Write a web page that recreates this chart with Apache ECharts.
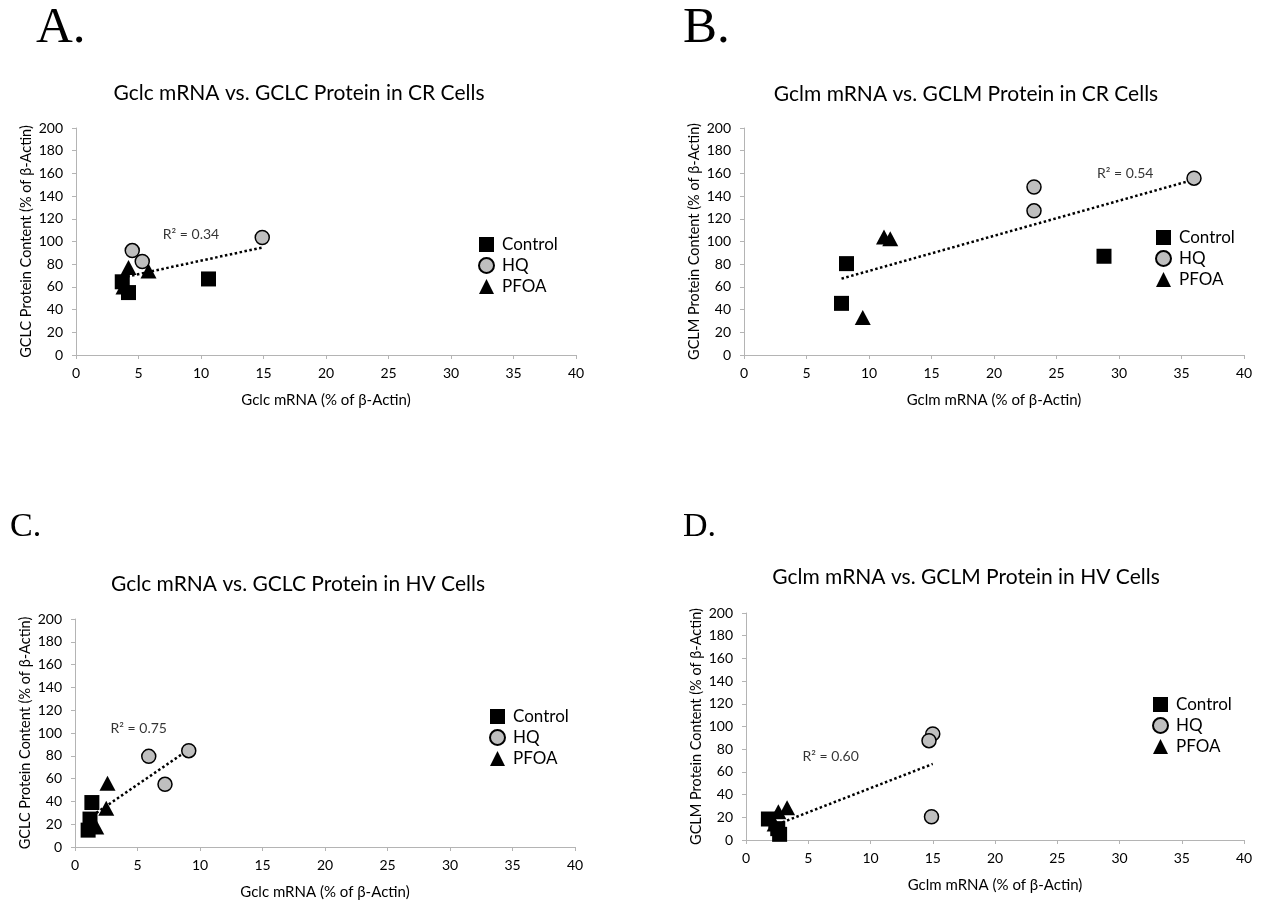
<!DOCTYPE html>
<html><head><meta charset="utf-8">
<script src="https://cdn.jsdelivr.net/npm/echarts@6/dist/echarts.min.js"></script>
<style>html,body{margin:0;padding:0;background:#fff}#c{width:1262px;height:903px}</style>
</head><body><div id="c"></div>
<script>
// ---------- text ----------
const panelLetters = ['A.', 'B.', 'C.', 'D.'];
const panelTitles = [
  'Gclc mRNA vs. GCLC Protein in CR Cells',
  'Gclm mRNA vs. GCLM Protein in CR Cells',
  'Gclc mRNA vs. GCLC Protein in HV Cells',
  'Gclm mRNA vs. GCLM Protein in HV Cells'
];
const xAxisNames = ['Gclc mRNA (% of β-Actin)', 'Gclm mRNA (% of β-Actin)', 'Gclc mRNA (% of β-Actin)', 'Gclm mRNA (% of β-Actin)'];
const yAxisNames = ['GCLC Protein Content (% of β-Actin)', 'GCLM Protein Content (% of β-Actin)', 'GCLC Protein Content (% of β-Actin)', 'GCLM Protein Content (% of β-Actin)'];
const groupNames = ['Control', 'HQ', 'PFOA'];
const xTickRange = [0, 40, 5];    // min, max, interval
const yTickRange = [0, 200, 20];

// ---------- data (x = mRNA %, y = protein %) ----------
const controlA = [[3.7, 64.5], [4.2, 55], [10.6, 67]];
const hqA      = [[4.5, 92], [5.3, 82.4], [14.9, 103.5]];
const pfoaA    = [[4.2, 77], [5.8, 74], [3.8, 60]];
const trendA   = [[3.7, 68.2], [14.9, 94.7]];
const r2TextA  = 'R² = 0.34';
const r2PosA   = [9.2, 106];

const controlB = [[7.8, 45.5], [8.2, 80.5], [28.8, 87]];
const hqB      = [[23.2, 148], [23.2, 127], [36.0, 155.8]];
const pfoaB    = [[11.2, 104], [11.7, 102.5], [9.5, 33]];
const trendB   = [[7.8, 67.3], [36.0, 154.5]];
const r2TextB  = 'R² = 0.54';
const r2PosB   = [30.5, 160];

const controlC = [[1.35, 39], [1.2, 24.5], [1.05, 14.8]];
const hqC      = [[5.9, 79.5], [9.1, 84.5], [7.2, 55]];
const pfoaC    = [[2.6, 56], [2.5, 34], [1.7, 17.5]];
const trendC   = [[1.05, 25], [9.1, 85.5]];
const r2TextC  = 'R² = 0.75';
const r2PosC   = [5.1, 104];

const controlD = [[1.8, 18.5], [2.55, 10], [2.7, 5]];
const hqD      = [[15.0, 93.5], [14.7, 87.5], [14.9, 20.5]];
const pfoaD    = [[2.6, 25], [3.3, 28.5], [2.3, 14]];
const trendD   = [[1.8, 10.8], [15.0, 67]];
const r2TextD  = 'R² = 0.60';
const r2PosD   = [6.8, 73.5];

const panels = [
  {control: controlA, hq: hqA, pfoa: pfoaA, trend: trendA, r2: r2TextA, r2Pos: r2PosA},
  {control: controlB, hq: hqB, pfoa: pfoaB, trend: trendB, r2: r2TextB, r2Pos: r2PosB},
  {control: controlC, hq: hqC, pfoa: pfoaC, trend: trendC, r2: r2TextC, r2Pos: r2PosC},
  {control: controlD, hq: hqD, pfoa: pfoaD, trend: trendD, r2: r2TextD, r2Pos: r2PosD}
];

// ---------- layout ----------
const FONT = 'Lato, "Open Sans", sans-serif';
const grids = [
  {left: 76,  top: 128, width: 500, height: 227},
  {left: 744, top: 128, width: 500, height: 227},
  {left: 75,  top: 619, width: 500, height: 228},
  {left: 746, top: 613, width: 498, height: 227}
];
const titlePos = [[299, 83], [966, 84], [298, 574], [966, 567]];
const legendPos = [[478, 236], [1155, 229], [489, 708], [1152, 696]];
const letterPos = [[36, 3, 51], [683, 3, 51], [10, 510, 34], [683, 510, 34]];
const AX = '#b4b4b4';

const chart = echarts.init(document.getElementById('c'), null, {renderer: 'canvas'});

const option = {
  backgroundColor: '#fff',
  animation: false,
  title: panelTitles.map((t, i) => ({
    text: t, left: titlePos[i][0], top: titlePos[i][1], textAlign: 'center', padding: 0,
    textStyle: {fontFamily: FONT, fontSize: 21, fontWeight: 'normal', color: '#000'}
  })),
  grid: grids.map(g => Object.assign({containLabel: false}, g)),
  legend: legendPos.map((p, i) => ({
    data: groupNames, orient: 'vertical', left: p[0], top: p[1], padding: 0,
    itemWidth: 15, itemHeight: 15, itemGap: 4, selectedMode: false,
    textStyle: {fontFamily: FONT, fontSize: 17, color: '#000', padding: [0, 0, 0, 3]}
  })),
  xAxis: grids.map((g, i) => ({
    gridIndex: i, type: 'value', min: xTickRange[0], max: xTickRange[1], interval: xTickRange[2],
    name: xAxisNames[i], nameLocation: 'middle', nameGap: 38,
    nameTextStyle: {fontFamily: FONT, fontSize: 15, color: '#000'},
    axisLine: {show: true, lineStyle: {color: AX, width: 1}},
    axisTick: {show: true, length: 4, lineStyle: {color: AX}},
    axisLabel: {fontFamily: FONT, fontSize: 14, color: '#000', margin: 11},
    splitLine: {show: false}
  })),
  yAxis: grids.map((g, i) => ({
    gridIndex: i, type: 'value', min: yTickRange[0], max: yTickRange[1], interval: yTickRange[2],
    name: yAxisNames[i], nameLocation: 'middle', nameGap: 42,
    nameTextStyle: {fontFamily: FONT, fontSize: 14.5, color: '#000'},
    axisLine: {show: true, lineStyle: {color: AX, width: 1}},
    axisTick: {show: true, length: 4, lineStyle: {color: AX}},
    axisLabel: {fontFamily: FONT, fontSize: 14, color: '#000', margin: 13},
    splitLine: {show: false}
  })),
  series: [],
  graphic: panelLetters.map((L, i) => ({
    type: 'text', left: letterPos[i][0], top: letterPos[i][1],
    style: {text: L, font: letterPos[i][2] + 'px "Liberation Serif", "Times New Roman", serif', fill: '#000'}
  }))
};

panels.forEach((p, i) => {
  option.series.push({
    type: 'line', name: 'trend' + i, xAxisIndex: i, yAxisIndex: i, data: p.trend,
    symbol: 'none', silent: true, z: 1,
    lineStyle: {type: [2.5, 2.5], width: 2.5, color: '#000', opacity: 1}
  });
  option.series.push({
    type: 'scatter', name: 'Control', xAxisIndex: i, yAxisIndex: i, data: p.control,
    symbol: 'rect', symbolSize: 15, z: 3, itemStyle: {color: '#000', opacity: 1}
  });
  option.series.push({
    type: 'scatter', name: 'HQ', xAxisIndex: i, yAxisIndex: i, data: p.hq,
    symbol: 'circle', symbolSize: 14, z: 3,
    itemStyle: {color: '#bfbfbf', borderColor: '#000', borderWidth: 1.5, opacity: 1}
  });
  option.series.push({
    type: 'scatter', name: 'PFOA', xAxisIndex: i, yAxisIndex: i, data: p.pfoa,
    symbol: 'triangle', symbolSize: [16, 15], z: 3, itemStyle: {color: '#000', opacity: 1}
  });
  option.series.push({
    type: 'scatter', name: 'r2' + i, xAxisIndex: i, yAxisIndex: i, data: [p.r2Pos],
    symbolSize: 1, itemStyle: {color: 'rgba(0,0,0,0)'}, silent: true, z: 4,
    label: {show: true, position: 'inside', formatter: p.r2, fontFamily: FONT, fontSize: 14, color: '#000'}
  });
});

chart.setOption(option);
</script>
</body></html>
